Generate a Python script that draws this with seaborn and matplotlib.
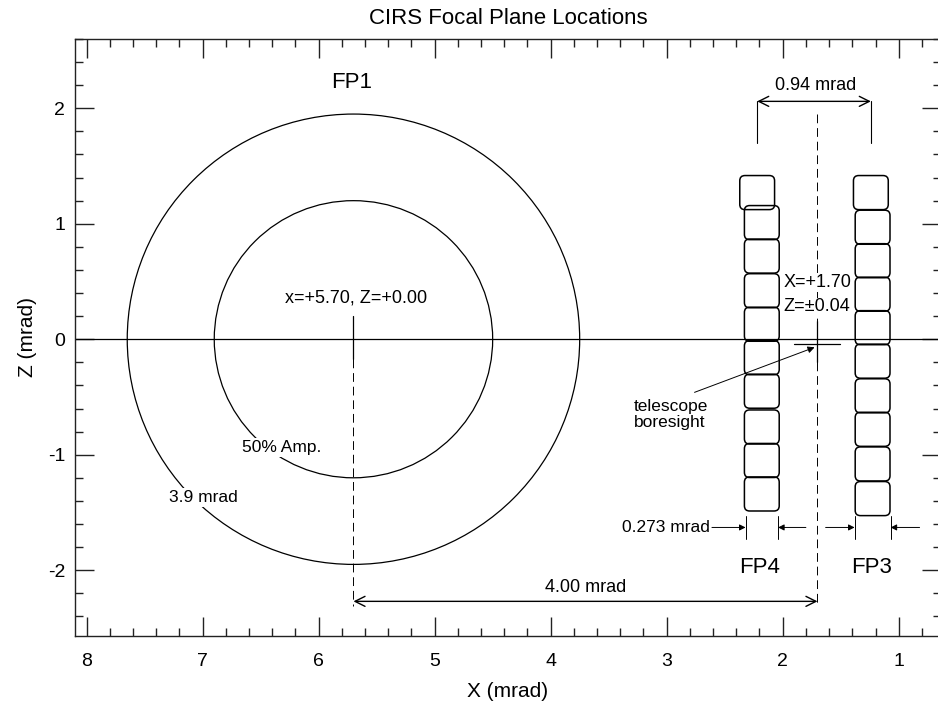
import numpy as np
import pandas as pd
import matplotlib
matplotlib.use("Agg")
import matplotlib.pyplot as plt
from matplotlib.patches import Circle, FancyBboxPatch
from matplotlib.ticker import MultipleLocator
import seaborn as sns

# настройки
sns.set_theme(style="ticks")
plt.rcParams['font.family'] = ['Liberation Sans', 'DejaVu Sans']
plt.rcParams['axes.unicode_minus'] = False
plt.rcParams['text.color'] = 'black'
plt.rcParams['axes.labelcolor'] = 'black'
plt.rcParams['xtick.labelcolor'] = 'black'
plt.rcParams['ytick.labelcolor'] = 'black'

# данные (mrad)
fp1_center = (5.70, 0.00)
fp1_radii = [1.95, 1.20]          # 3.9 mrad, 50% Amp.
boresight = (1.70, -0.04)

fp4_x = [2.22, 2.18, 2.18, 2.18, 2.18, 2.18, 2.18, 2.18, 2.18, 2.18]
fp4_z = [1.27, 1.01, 0.72, 0.42, 0.13, -0.16, -0.45, -0.76, -1.05, -1.34]
fp3_x = [1.24, 1.225, 1.225, 1.225, 1.225, 1.225, 1.225, 1.225, 1.225, 1.225]
fp3_z = [1.27, 0.97, 0.68, 0.39, 0.10, -0.19, -0.49, -0.78, -1.08, -1.38]
pix_w, pix_h = 0.30, 0.295

fp4_edges = [2.32, 2.04]
fp3_edges = [1.38, 1.07]

fig = plt.figure(figsize=(9.38, 7.04), dpi=100)
ax = fig.add_axes([0.080, 0.0966, 0.923, 0.848])

lw = 0.9
# линия Z=0
zero = pd.DataFrame({'x': [8.1, 0.6], 'z': [0, 0]})
sns.lineplot(data=zero, x='x', y='z', color='black', lw=lw, ax=ax, sort=False)

# FP1
for r in fp1_radii:
    ax.add_patch(Circle(fp1_center, r, fill=False, ec='black', lw=lw))
ax.plot([fp1_center[0]] * 2, [0.20, -0.17], color='black', lw=lw)
ax.plot([fp1_center[0]] * 2, [-0.17, -2.31], color='black', lw=0.7, ls=(0, (9, 5)))

# телескоп
bx, bz = boresight
ax.plot([bx + 0.2, bx - 0.19], [bz, bz], color='black', lw=lw)
ax.plot([bx, bx], [bz + 0.20, bz - 0.16], color='black', lw=lw)
ax.plot([bx, bx], [1.95, bz + 0.20], color='black', lw=0.7, ls=(0, (9, 5)))
ax.plot([bx, bx], [bz - 0.16, -2.31], color='black', lw=0.7, ls=(0, (9, 5)))

# детекторы FP4 и FP3
for xs, zs in [(fp4_x, fp4_z), (fp3_x, fp3_z)]:
    for x, z in zip(xs, zs):
        ax.add_patch(FancyBboxPatch((x - pix_w / 2, z - pix_h / 2), pix_w, pix_h,
                                    boxstyle="round,pad=0,rounding_size=0.045",
                                    fill=False, ec='black', lw=1.1))

fs = 13
ax.text(5.72, 2.22, "FP1", fontsize=16, ha='center', va='center')
ax.text(2.20, -1.98, "FP4", fontsize=16, ha='center', va='center')
ax.text(1.235, -1.98, "FP3", fontsize=16, ha='center', va='center')

ax.text(5.68, 0.36, "x=+5.70, Z=+0.00", fontsize=fs, ha='center', va='center')
wb = dict(facecolor='white', edgecolor='none', pad=1.5)
ax.text(6.32, -0.935, "50% Amp.", fontsize=12.5, ha='center', va='center', bbox=wb)
ax.text(6.995, -1.37, "3.9 mrad", fontsize=12.5, ha='center', va='center', bbox=wb)

ax.text(1.99, 0.49, "X=+1.70", fontsize=fs, ha='left', va='center',
        bbox=dict(facecolor='white', edgecolor='none', pad=0.5))
ax.text(1.99, 0.28, "Z=\u00b10.04", fontsize=fs, ha='left', va='center',
        bbox=dict(facecolor='white', edgecolor='none', pad=0.5))

ax.text(3.28, -0.65, "telescope\nboresight", fontsize=12.5, ha='left', va='center',
        linespacing=1.1)
ax.annotate("", xy=(1.725, -0.07), xytext=(2.76, -0.46),
            arrowprops=dict(arrowstyle='-|>', color='black', lw=0.7,
                            mutation_scale=10, shrinkA=0, shrinkB=0))

# 0.94 mrad
ax.plot([fp4_x[0]] * 2, [2.06, 1.70], color='black', lw=0.8)
ax.plot([fp3_x[0]] * 2, [2.06, 1.70], color='black', lw=0.8)
ax.annotate("", xy=(fp3_x[0], 2.06), xytext=(fp4_x[0], 2.06),
            arrowprops=dict(arrowstyle='<->', color='black', lw=1.0,
                            mutation_scale=18, shrinkA=0, shrinkB=0))
ax.text(1.72, 2.2, "0.94 mrad", fontsize=fs, ha='center', va='center')

# 4.00 mrad
ax.annotate("", xy=(bx, -2.27), xytext=(fp1_center[0], -2.27),
            arrowprops=dict(arrowstyle='<->', color='black', lw=1.0,
                            mutation_scale=18, shrinkA=0, shrinkB=0))
ax.text(3.7, -2.15, "4.00 mrad", fontsize=fs, ha='center', va='center')

# 0.273 mrad
for e in fp4_edges + fp3_edges:
    ax.plot([e, e], [-1.53, -1.73], color='black', lw=0.7)
for (a, b) in [(2.61, 2.32), (1.80, 2.04), (1.63, 1.38), (0.82, 1.07)]:
    ax.annotate("", xy=(b, -1.63), xytext=(a, -1.63),
                arrowprops=dict(arrowstyle='-|>', color='black', lw=0.7,
                                mutation_scale=9, shrinkA=0, shrinkB=0))
ax.text(2.63, -1.63, "0.273 mrad", fontsize=12.5, ha='right', va='center')

# оси
ax.set_xlim(8.10, 0.637)
ax.set_ylim(-2.57, 2.60)
ax.xaxis.set_major_locator(MultipleLocator(1))
ax.xaxis.set_minor_locator(MultipleLocator(0.2))
ax.yaxis.set_major_locator(MultipleLocator(1))
ax.yaxis.set_minor_locator(MultipleLocator(0.2))
ax.tick_params(which='both', direction='in', top=True, right=True, color='#222222',
               labelsize=14, width=1.0)
ax.tick_params(which='major', length=14)
ax.tick_params(which='minor', length=6)
ax.tick_params(axis='x', which='major', pad=12)
ax.tick_params(axis='y', which='major', pad=7)
for s in ax.spines.values():
    s.set_linewidth(1.0)
    s.set_color('#222222')

ax.set_xlabel("X (mrad)", fontsize=15, labelpad=9)
ax.set_ylabel("Z (mrad)", fontsize=15, labelpad=8)
ax.set_title("CIRS Focal Plane Locations", fontsize=16, pad=11)

fig.savefig("out.png", dpi=100)
